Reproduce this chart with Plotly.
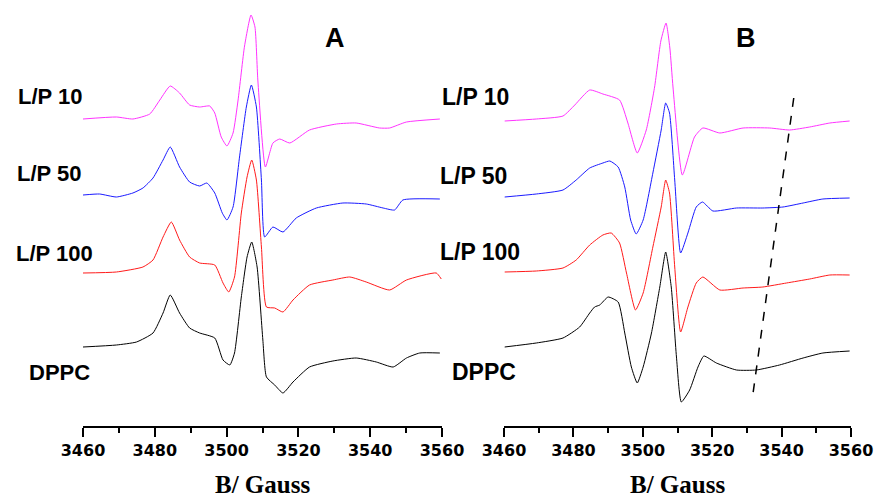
import plotly.graph_objects as go

# ---------------- data (field in Gauss, intensity in arbitrary units) ----------------
# Panel A
a_lp10_B = [3460.0, 3469.3, 3473.9, 3478.6, 3481.4, 3484.3, 3486.9, 3489.7, 3492.5, 3495.3, 3496.7,
            3498.5, 3500.1, 3501.8, 3503.2, 3505.0, 3506.8, 3507.9, 3508.7, 3510.8, 3512.9, 3514.8,
            3517.6, 3523.1, 3530.6, 3536.1, 3542.6, 3545.4, 3550.1, 3559.4]
a_lp10_I = [307, 309, 307, 312, 326, 340, 333, 321, 319, 320, 313,
            289, 280, 293, 326, 380, 411, 399, 346, 259, 283, 287,
            283, 296, 302, 303, 298, 298, 304, 307]

a_lp50_B = [3460.0, 3464.6, 3469.3, 3473.9, 3476.7, 3479.5, 3482.3, 3484.3, 3486.9, 3489.7, 3492.5,
            3494.5, 3496.7, 3498.8, 3500.1, 3501.8, 3503.6, 3505.5, 3506.9, 3508.3, 3509.7, 3510.6,
            3512.9, 3515.7, 3519.4, 3525.0, 3532.4, 3538.9, 3543.6, 3546.8, 3549.1, 3559.4]
a_lp50_I = [231, 232, 229, 233, 238, 248, 266, 279, 259, 244, 240,
            243, 233, 213, 206, 219, 269, 319, 341, 319, 246, 189,
            199, 194, 208, 218, 223, 222, 218, 216, 226, 227]

a_lp100_B = [3460.0, 3469.3, 3476.7, 3479.5, 3482.3, 3484.6, 3486.9, 3489.7, 3492.5, 3496.7, 3499.0,
             3500.6, 3502.2, 3504.1, 3505.7, 3507.0, 3508.3, 3509.7, 3511.1, 3513.4, 3515.7, 3518.5,
             3523.1, 3529.6, 3534.3, 3538.9, 3545.4, 3550.1, 3558.4, 3559.8]
a_lp100_I = [153, 154, 159, 166, 189, 204, 186, 169, 163, 161, 143,
             134, 149, 213, 249, 266, 246, 179, 119, 118, 114, 126,
             141, 146, 149, 144, 136, 146, 153, 147]

a_dppc_B = [3460.0, 3469.3, 3474.9, 3479.5, 3482.3, 3484.3, 3486.9, 3489.7, 3492.5, 3496.7, 3499.0,
            3500.9, 3502.2, 3504.1, 3505.7, 3507.0, 3508.5, 3510.1, 3511.1, 3513.4, 3515.7, 3518.5,
            3523.1, 3529.6, 3536.1, 3541.7, 3546.4, 3550.1, 3553.8, 3559.4]
a_dppc_I = [79, 81, 84, 93, 113, 131, 113, 98, 93, 88, 66,
            61, 73, 129, 169, 184, 159, 86, 49, 41, 33, 44,
            59, 65, 68, 64, 59, 68, 73, 73]

# Panel B
b_lp10_B = [3460.2, 3469.3, 3477.0, 3480.4, 3484.7, 3488.5, 3493.3, 3495.7, 3498.4, 3501.0, 3503.4,
            3505.2, 3506.7, 3507.8, 3508.7, 3511.4, 3514.9, 3517.3, 3522.2, 3528.9, 3536.6, 3542.3,
            3548.1, 3553.9, 3559.6]
b_lp10_I = [305, 307, 310, 321, 336, 332, 326, 303, 273, 296, 339,
            385, 403, 378, 339, 251, 289, 298, 293, 298, 298, 296,
            299, 303, 305]

b_lp50_B = [3460.2, 3469.3, 3477.0, 3480.8, 3484.7, 3488.5, 3490.5, 3492.9, 3494.8, 3496.5, 3498.1,
            3500.1, 3502.9, 3505.3, 3506.6, 3507.7, 3509.2, 3510.9, 3513.0, 3515.4, 3517.2, 3520.2,
            3527.0, 3534.6, 3540.4, 3546.2, 3551.9, 3559.6]
b_lp50_I = [229, 232, 236, 246, 258, 263, 265, 259, 239, 206, 192,
            206, 253, 296, 323, 313, 246, 173, 193, 219, 224, 215,
            218, 218, 219, 223, 227, 228]

b_lp100_B = [3460.2, 3469.3, 3477.0, 3480.8, 3484.7, 3488.5, 3490.9, 3493.3, 3495.3, 3497.9, 3500.1,
             3502.9, 3505.3, 3506.6, 3507.7, 3509.2, 3510.9, 3513.0, 3515.4, 3517.3, 3522.2, 3528.9,
             3534.6, 3541.4, 3548.1, 3553.9, 3559.6]
b_lp100_I = [154, 155, 158, 166, 181, 191, 193, 183, 153, 116, 133,
             179, 219, 246, 233, 159, 94, 119, 143, 149, 136, 138,
             139, 143, 147, 151, 151]

b_dppc_B = [3460.2, 3469.3, 3477.0, 3481.8, 3484.7, 3486.1, 3487.6, 3490.0, 3492.9, 3494.8, 3496.7,
            3498.4, 3500.1, 3502.5, 3504.9, 3506.6, 3508.2, 3509.7, 3511.1, 3513.5, 3515.9, 3517.6,
            3521.2, 3527.0, 3532.7, 3539.4, 3546.2, 3551.9, 3559.6]
b_dppc_I = [79, 83, 88, 99, 113, 119, 121, 129, 124, 93, 59,
            43, 59, 93, 139, 174, 139, 69, 24, 36, 59, 70,
            63, 56, 56, 61, 68, 73, 75]

guide_B = [3543.5, 3531.7]
guide_I = [328, 31]

x_ticks = [3460, 3480, 3500, 3520, 3540, 3560]
labels = ["L/P 10", "L/P 50", "L/P 100", "DPPC"]
colors = ["#ff33ff", "#1a1aff", "#ff1a1a", "#000000"]

# ---------------- figure ----------------
W, H = 877, 500
fig = go.Figure()

panel_a = [(a_lp10_B, a_lp10_I), (a_lp50_B, a_lp50_I), (a_lp100_B, a_lp100_I), (a_dppc_B, a_dppc_I)]
panel_b = [(b_lp10_B, b_lp10_I), (b_lp50_B, b_lp50_I), (b_lp100_B, b_lp100_I), (b_dppc_B, b_dppc_I)]

line_style = dict(width=1, shape="spline", smoothing=0.5)
for (bx, by), c in zip(panel_a, colors):
    fig.add_trace(go.Scatter(x=bx, y=by, mode="lines", line=dict(color=c, **line_style),
                             xaxis="x", yaxis="y", showlegend=False, hoverinfo="skip"))
for (bx, by), c in zip(panel_b, colors):
    fig.add_trace(go.Scatter(x=bx, y=by, mode="lines", line=dict(color=c, **line_style),
                             xaxis="x2", yaxis="y2", showlegend=False, hoverinfo="skip"))
fig.add_trace(go.Scatter(x=guide_B, y=guide_I, mode="lines", line=dict(color="black", width=1.5, dash="dash"),
                         xaxis="x2", yaxis="y2", showlegend=False, hoverinfo="skip"))

axis_common = dict(
    range=[3460, 3560], tickvals=x_ticks, ticks="outside", ticklen=9, tickwidth=1.5, tickcolor="black",
    showline=True, linecolor="black", linewidth=1.5, showgrid=False, zeroline=False, automargin=False,
    tickfont=dict(family="DejaVu Sans", size=16, color="black", weight="bold"),
    minor=dict(dtick=10, tick0=3460, ticks="outside", ticklen=5, tickwidth=1.5, tickcolor="black", showgrid=False),
)
yaxis_common = dict(range=[0, 426], visible=False, showgrid=False, zeroline=False, automargin=False)

fig.update_layout(
    width=W, height=H, autosize=False,
    margin=dict(l=0, r=0, t=0, b=74, pad=0),
    paper_bgcolor="white", plot_bgcolor="white",
    xaxis=dict(domain=[83 / W, 442 / W], anchor="y", **axis_common),
    xaxis2=dict(domain=[504 / W, 851 / W], anchor="y2", **axis_common),
    yaxis=dict(domain=[0, 1], anchor="x", **yaxis_common),
    yaxis2=dict(domain=[0, 1], anchor="x2", **yaxis_common),
)

PH = 426.0
def px(xp):
    return xp / W
def py(yp):
    return (PH - yp) / PH

ann = []
a_pos = [(50, 96), (49, 173), (54, 253), (59, 372)]
b_pos = [(475, 97), (474, 176), (480, 252), (484, 372)]
for t, (x0, y0) in zip(labels, a_pos):
    ann.append(dict(x=px(x0), y=py(y0), xref="paper", yref="paper", text="<b>%s</b>" % t, showarrow=False,
                    font=dict(family="Liberation Sans", size=22, color="black"), xanchor="center", yanchor="middle"))
for t, (x0, y0) in zip(labels, b_pos):
    ann.append(dict(x=px(x0), y=py(y0), xref="paper", yref="paper", text="<b>%s</b>" % t, showarrow=False,
                    font=dict(family="Liberation Sans", size=23, color="black"), xanchor="center", yanchor="middle"))
ann.append(dict(x=px(335), y=py(38), xref="paper", yref="paper", text="<b>A</b>", showarrow=False,
                font=dict(family="Liberation Sans", size=27, color="black"), xanchor="center", yanchor="middle"))
ann.append(dict(x=px(746), y=py(38), xref="paper", yref="paper", text="<b>B</b>", showarrow=False,
                font=dict(family="Liberation Sans", size=27, color="black"), xanchor="center", yanchor="middle"))
for xc in (262, 677):
    ann.append(dict(x=px(xc), y=py(485), xref="paper", yref="paper", text="<b>B/ Gauss</b>", showarrow=False,
                    font=dict(family="Liberation Serif", size=25, color="black"), xanchor="center", yanchor="middle"))
fig.update_layout(annotations=ann)

fig.write_html("out.html", config={"displayModeBar": False},
               post_script="document.body.style.margin='0';document.body.style.overflow='hidden';")
